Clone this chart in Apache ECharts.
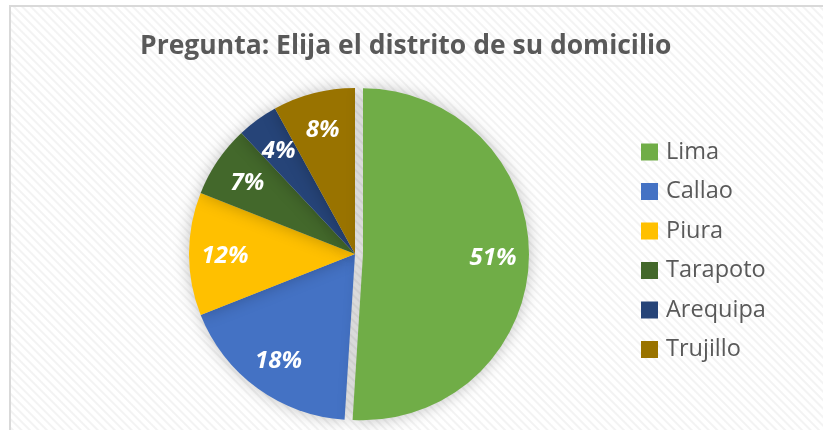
<!DOCTYPE html>
<html>
<head>
<meta charset="utf-8">
<script src="https://cdn.jsdelivr.net/npm/echarts@6/dist/echarts.min.js"></script>
<style>
  html, body { margin: 0; padding: 0; background: #fff; }
  #frame {
    position: absolute; left: 9px; top: 5px; width: 830px; height: 440px;
    border: 2px solid #d9d9d9; box-sizing: border-box;
    background: repeating-linear-gradient(45deg, #ffffff 0px, #ffffff 3px, #f3f3f3 4px, #f3f3f3 5px, #ffffff 6px);
  }
  #chart { position: absolute; left: 0; top: 0; width: 823px; height: 430px; }
</style>
</head>
<body>
<div id="frame"></div>
<div id="chart"></div>
<script>
// datos de la encuesta
const districts = ['Lima', 'Callao', 'Piura', 'Tarapoto', 'Arequipa', 'Trujillo']
const shares = [51, 18, 12, 7, 4, 8]
const colors = ['#70AD47', '#4472C4', '#FFC000', '#43682B', '#264478', '#997300']

const pieData = districts.map((name, i) => ({
  name: name,
  value: shares[i],
  selected: i === 0
}))

const chart = echarts.init(document.getElementById('chart'))
const center = [355, 254]
const option = {
  color: colors,
  title: {
    text: 'Pregunta: Elija el distrito de su domicilio',
    left: 135,
    top: 28,
    textStyle: {
      fontFamily: 'Open Sans',
      fontWeight: 'bold',
      fontSize: 26.5,
      color: '#595959'
    }
  },
  legend: {
    orient: 'vertical',
    left: 636,
    top: 135,
    icon: 'rect',
    itemWidth: 17,
    itemHeight: 17,
    itemGap: 15.5,
    selectedMode: false,
    data: districts,
    textStyle: {
      fontFamily: 'Open Sans',
      fontSize: 23.5,
      lineHeight: 22,
      color: '#595959',
      padding: [0, 0, 0, 3]
    }
  },
  series: [
    {
      // slices
      type: 'pie',
      center: center,
      radius: 166,
      startAngle: 90,
      selectedMode: 'single',
      selectedOffset: 8,
      silent: true,
      label: { show: false },
      labelLine: { show: false },
      itemStyle: {
        borderWidth: 0,
        shadowBlur: 16,
        shadowColor: 'rgba(0,0,0,0.25)'
      },
      data: pieData
    },
    {
      // labels only, placed further out than the slice middle
      type: 'pie',
      center: center,
      radius: [88, 166],
      startAngle: 90,
      selectedMode: 'single',
      selectedOffset: 8,
      silent: true,
      itemStyle: { color: 'rgba(0,0,0,0)' },
      labelLine: { show: false },
      label: {
        show: true,
        position: 'inside',
        formatter: '{c}%',
        color: '#fff',
        fontFamily: 'Open Sans',
        fontWeight: 'bold',
        fontStyle: 'italic',
        fontSize: 24,
        offset: [0, 2]
      },
      data: pieData
    }
  ]
}
chart.setOption(option)
</script>
</body>
</html>
